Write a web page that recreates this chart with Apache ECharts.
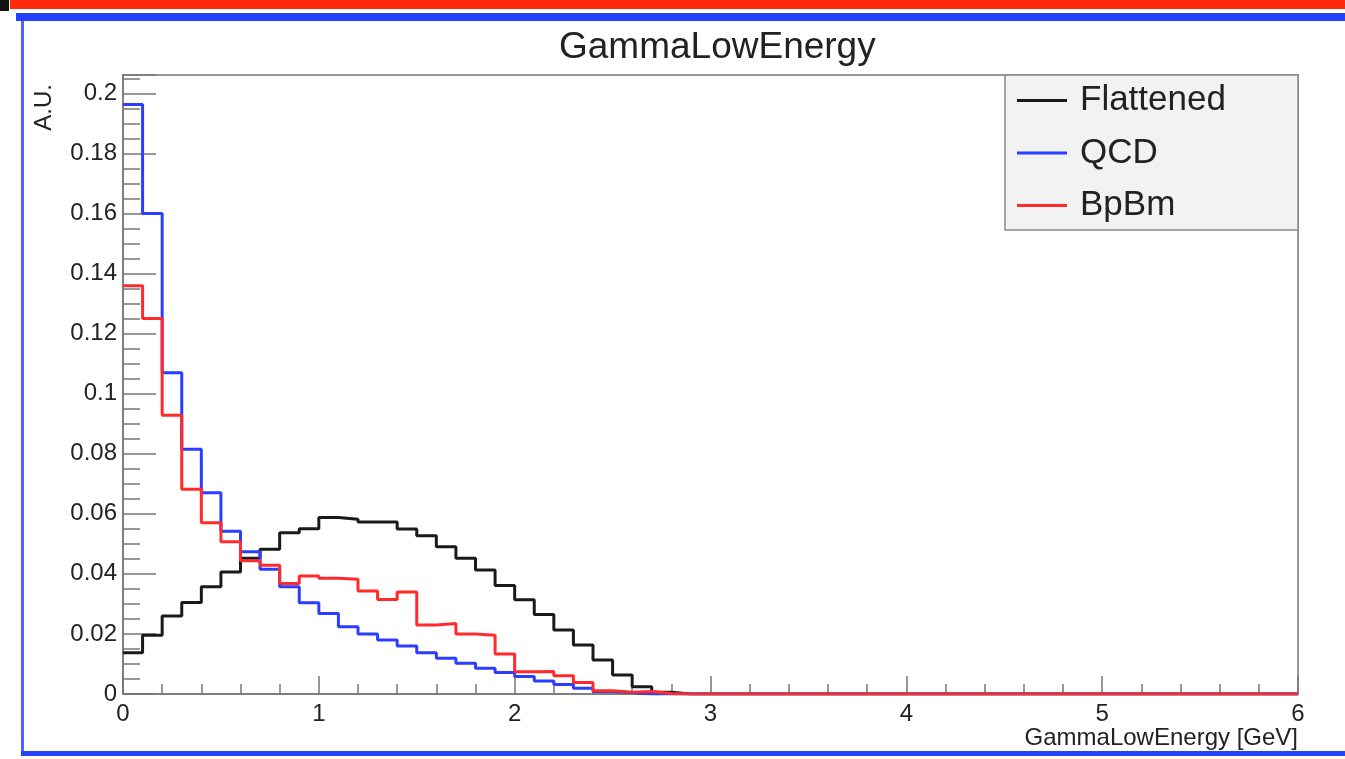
<!DOCTYPE html>
<html>
<head>
<meta charset="utf-8">
<script src="https://cdn.jsdelivr.net/npm/echarts@6/dist/echarts.min.js"></script>
<style>
html,body{margin:0;padding:0;background:#fff;}
#chart{width:1345px;height:759px;}
</style>
</head>
<body>
<div id="chart"></div>
<script>
// ---- data ----
var title = 'GammaLowEnergy';
var xTitle = 'GammaLowEnergy [GeV]';
var yTitle = 'A.U.';
var seriesNames = ['Flattened', 'QCD', 'BpBm'];
var binWidth = 0.1;
var xMin = 0, xMax = 6;
var flattened = [
  0.0137, 0.0196, 0.0260, 0.0305, 0.0357, 0.0406, 0.0452, 0.0482, 0.0537, 0.0550,
  0.0588, 0.0582, 0.0573, 0.0573, 0.0549, 0.0527, 0.0490, 0.0452, 0.0413, 0.0361,
  0.0314, 0.0265, 0.0213, 0.0163, 0.0113, 0.0063, 0.0024, 0.0006, 0, 0,
  0, 0, 0, 0, 0, 0, 0, 0, 0, 0,
  0, 0, 0, 0, 0, 0, 0, 0, 0, 0,
  0, 0, 0, 0, 0, 0, 0, 0, 0, 0
];
var qcd = [
  0.1963, 0.1600, 0.1070, 0.0815, 0.0670, 0.0542, 0.0474, 0.0415, 0.0357, 0.0304,
  0.0268, 0.0224, 0.0200, 0.0180, 0.0160, 0.0137, 0.0119, 0.0102, 0.0086, 0.0072,
  0.0058, 0.0043, 0.0032, 0.0019, 0.0008, 0.0004, 0, 0, 0, 0,
  0, 0, 0, 0, 0, 0, 0, 0, 0, 0,
  0, 0, 0, 0, 0, 0, 0, 0, 0, 0,
  0, 0, 0, 0, 0, 0, 0, 0, 0, 0
];
var bpbm = [
  0.1359, 0.1250, 0.0928, 0.0682, 0.0570, 0.0507, 0.0444, 0.0429, 0.0368, 0.0393,
  0.0385, 0.0382, 0.0343, 0.0315, 0.0340, 0.0230, 0.0235, 0.0200, 0.0196, 0.0133,
  0.0074, 0.0075, 0.0061, 0.0038, 0.0011, 0.0006, 0.0008, 0.0002, 0, 0,
  0, 0, 0, 0, 0, 0, 0, 0, 0, 0,
  0, 0, 0, 0, 0, 0, 0, 0, 0, 0,
  0, 0, 0, 0, 0, 0, 0, 0, 0, 0
];
var yTickStep = 0.02;
var yMax = 0.2061;

// ---- build step data from bin lower edges ----
function histData(vals) {
  var d = [];
  for (var i = 0; i < vals.length; i++) d.push([Math.round(i * binWidth * 1000) / 1000, vals[i]]);
  d.push([xMax, vals[vals.length - 1]]);
  return d;
}

var FONT = 'Liberation Sans, Arial, Helvetica, sans-serif';
var colors = ['#1a1a1a', '#2b3dff', '#ff2b2b'];
var chart = echarts.init(document.getElementById('chart'), null, {renderer: 'canvas'});

var option = {
  animation: false,
  backgroundColor: '#ffffff',
  title: {
    text: title, left: 554, top: 24,
    textStyle: {fontFamily: FONT, fontSize: 37, fontWeight: 'normal', color: '#222'}
  },
  grid: {left: 123, right: 47, top: 75, bottom: 65, containLabel: false, outerBoundsMode: 'none',
         show: true, borderColor: '#777', borderWidth: 1.5, backgroundColor: 'transparent'},
  legend: {
    left: 1017, top: 83, orient: 'vertical', padding: 0, itemGap: 17.5,
    itemWidth: 50, itemHeight: 3, icon: 'rect', z: 10,
    data: seriesNames,
    textStyle: {fontFamily: FONT, fontSize: 35, color: '#222', lineHeight: 34, padding: [0, 0, 0, 8]}
  },
  xAxis: {
    type: 'value', min: xMin, max: xMax, interval: 1,
    axisLine: {show: true, lineStyle: {color: '#777', width: 1.5}},
    axisTick: {show: true, inside: true, length: 18, lineStyle: {color: '#777', width: 1.5}},
    minorTick: {show: true, splitNumber: 5, length: 10, lineStyle: {color: '#777', width: 1.5}},
    splitLine: {show: false},
    axisLabel: {fontFamily: FONT, fontSize: 24, color: '#222', margin: 8}
  },
  yAxis: {
    type: 'value', min: 0, max: yMax, interval: yTickStep,
    axisLine: {show: true, lineStyle: {color: '#777', width: 1.5}},
    axisTick: {show: true, inside: true, length: 33, lineStyle: {color: '#777', width: 1.5}},
    minorTick: {show: true, splitNumber: 4, length: 17, lineStyle: {color: '#777', width: 1.5}},
    splitLine: {show: false},
    axisLabel: {
      fontFamily: FONT, fontSize: 24, color: '#222', margin: 6,
      formatter: function (v) {
        var k = v / yTickStep;
        if (Math.abs(k - Math.round(k)) > 1e-6) return '';
        return String(parseFloat(v.toFixed(3)));
      }
    }
  },
  graphic: [
    {type: 'rect', shape: {x: 0, y: 0, width: 9, height: 11}, style: {fill: '#111'}, z: 1},
    {type: 'rect', shape: {x: 10, y: 0, width: 1335, height: 9}, style: {fill: '#ff2a0a'}, z: 1},
    {type: 'rect', shape: {x: 16, y: 13, width: 1329, height: 8}, style: {fill: '#2342ff'}, z: 1},
    {type: 'rect', shape: {x: 21, y: 21, width: 3, height: 734}, style: {fill: '#4d63ff'}, z: 1},
    {type: 'rect', shape: {x: 21, y: 751, width: 1324, height: 5}, style: {fill: '#2342ff'}, z: 1},
    {type: 'rect', shape: {x: 1005, y: 75, width: 293, height: 155}, style: {fill: '#f2f2f2', stroke: '#888', lineWidth: 1.5}, z: 5},
    {type: 'text', x: 44, y: 84, rotation: Math.PI / 2,
     style: {text: yTitle, fontFamily: FONT, fontSize: 24, fill: '#222', textAlign: 'right', textVerticalAlign: 'middle'}, z: 5},
    {type: 'text', x: 1298, y: 738,
     style: {text: xTitle, fontFamily: FONT, fontSize: 24, fill: '#222', textAlign: 'right', textVerticalAlign: 'middle'}, z: 5}
  ],
  series: seriesNames.map(function (name, i) {
    var vals = [flattened, qcd, bpbm][i];
    return {
      name: name, type: 'line', step: 'end', data: histData(vals),
      symbol: 'none', color: colors[i],
      lineStyle: {color: colors[i], width: 3},
      z: 2 + i
    };
  })
};
chart.setOption(option);
</script>
</body>
</html>
